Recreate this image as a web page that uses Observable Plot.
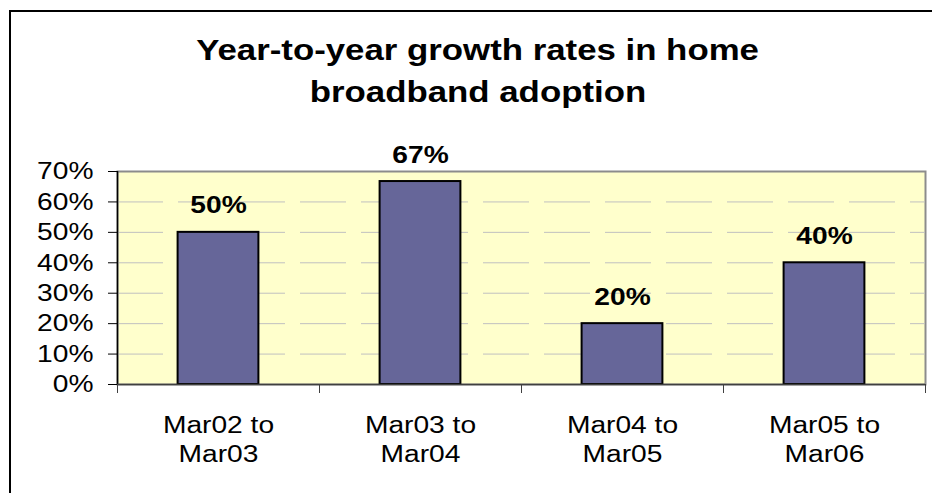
<!DOCTYPE html>
<html>
<head>
<meta charset="utf-8">
<script src="https://cdn.jsdelivr.net/npm/d3@7"></script>
<script src="https://cdn.jsdelivr.net/npm/@observablehq/plot@0.6"></script>
<style>
  body { margin: 0; background: #fff; }
  #wrap { position: relative; width: 932px; height: 493px; overflow: hidden; font-family: "Liberation Sans", Arial, sans-serif; }
  #border { position: absolute; left: 9px; top: 10px; width: 980px; height: 540px; border-left: 2px solid #000; border-top: 2px solid #000; }
  #chart { position: absolute; left: 0; top: 0; }
  #title { position: absolute; left: 0; top: 28.6px; width: 956px; text-align: center; font-weight: bold; font-size: 30px; line-height: 42.3px; color: #000; }
  #title span { display: inline-block; transform: scaleX(1.16); transform-origin: center; }
</style>
</head>
<body>
<div id="wrap">
  <div id="border"></div>
  <div id="chart"></div>
  <div id="title"><span>Year-to-year growth rates in home</span><br><span>broadband adoption</span></div>
</div>
<script>
const categories = ["Mar02 to\nMar03", "Mar03 to\nMar04", "Mar04 to\nMar05", "Mar05 to\nMar06"];
const growth = [0.50, 0.667, 0.20, 0.40];
const valueLabels = ["50%", "67%", "20%", "40%"];
const yTicks = [0, 0.1, 0.2, 0.3, 0.4, 0.5, 0.6, 0.7];

const data = categories.map((c, i) => ({ c, i, v: growth[i], label: valueLabels[i] }));

const svg = Plot.plot({
  width: 932,
  height: 493,
  marginLeft: 117,
  marginRight: 7,
  marginTop: 171,
  marginBottom: 109,
  style: { background: "transparent", fontFamily: "'Liberation Sans', Arial, sans-serif", color: "#000", overflow: "visible" },
  x: { type: "linear", domain: [0, categories.length] },
  y: { domain: [0, 0.7] },
  marks: [
    Plot.frame({ fill: "#FFFFCC", stroke: "#8c8c8c", strokeWidth: 2 }),
    Plot.gridY(yTicks.slice(1, -1), { stroke: "#c0c0c0", strokeOpacity: 1, strokeWidth: 1, strokeDasharray: "46,15" }),
    Plot.rect(data, { x1: d => d.i + 0.3, x2: d => d.i + 0.7, y1: 0, y2: "v", fill: "#666699", stroke: "#000", strokeWidth: 2 }),
    Plot.ruleX([0], { stroke: "#000", strokeWidth: 1.5 }),
    Plot.ruleY([0], { stroke: "#404040", strokeWidth: 1.5 }),
    Plot.axisY({ ticks: yTicks, tickFormat: d3.format(".0%"), tickSize: 9, tickPadding: 15, fontSize: 24.5, label: null, stroke: "#000" }),
    Plot.axisX({ ticks: d3.range(categories.length + 1), tickFormat: () => "", tickSize: 9, label: null, stroke: "#404040" }),
    Plot.axisX(data.map(d => d.i + 0.5), { tickFormat: (d, i) => categories[i], tickSize: 0, tickPadding: 27, fontSize: 24.5, lineHeight: 1.215, label: null }),
    Plot.text(data, { x: d => d.i + 0.5, y: "v", text: "label", dy: -19, lineAnchor: "bottom", fontWeight: "bold", fontSize: 24.5, fill: "#000" })
  ]
});

// horizontally widen glyphs like the reference's stretched Arial
d3.select(svg).selectAll("text").each(function () {
  const t = d3.select(this);
  const tr = t.attr("transform") || "";
  const xs = t.attr("x"), ys = t.attr("y");
  const x = xs != null && !isNaN(+xs) ? +xs : 0;
  const y = ys != null && !isNaN(+ys) ? +ys : 0;
  if (xs != null && !isNaN(+xs)) t.attr("x", null);
  if (ys != null && !isNaN(+ys)) t.attr("y", null);
  t.attr("transform", `${tr} translate(${x},${y}) scale(1.15,1)`);
});

document.getElementById("chart").appendChild(svg);
</script>
</body>
</html>
